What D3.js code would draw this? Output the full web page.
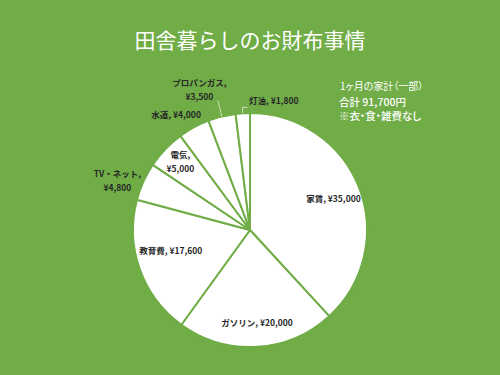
<!DOCTYPE html>
<html>
<head>
<meta charset="utf-8">
<script src="https://cdn.jsdelivr.net/npm/d3@7"></script>
<style>
  body { margin: 0; background: #70ad47; }
  svg { display: block; }
  .note text { font-feature-settings: "palt"; }
</style>
</head>
<body>
<div id="chart"></div>
<script>
var fullwidth = 500, fullheight = 375;

// data
var categories = ["家賃", "ガソリン", "教育費", "TV・ネット", "電気", "水道", "プロパンガス", "灯油"];
var values = [35000, 20000, 17600, 4800, 5000, 4000, 3500, 1800];
var titleText = "田舎暮らしのお財布事情";
var noteLines = ["1ヶ月の家計（一部）", "合計 91,700円", "※衣・食・雑費なし"];

// label placement: radius factor, angle shift (deg), wrap into two lines
var labelPlace = {
  "家賃":       {f: 0.76, da: 1,   wrap: false},
  "ガソリン":   {f: 0.80, da: -1,  wrap: false},
  "教育費":     {f: 0.70, da: 5,   wrap: false},
  "TV・ネット": {f: 1.21, da: -4,  wrap: true},
  "電気":       {f: 0.83, da: 0.5, wrap: true},
  "水道":       {f: 1.17, da: -4,  wrap: false},
  "プロパンガス": {f: 1.27, da: -6, wrap: true},
  "灯油":       {f: 1.12, da: 14,  wrap: false}
};
var leaders = {"プロパンガス": 1.14, "灯油": 1.05};

var cx = 250, cy = 230, radius = 117;
var fmt = d3.format(",");

var svg = d3.select("#chart").append("svg")
    .attr("width", fullwidth)
    .attr("height", fullheight);

svg.append("rect")
    .attr("width", fullwidth)
    .attr("height", fullheight)
    .attr("fill", "#70ad47");

svg.append("text")
    .attr("x", 250)
    .attr("y", 39)
    .attr("text-anchor", "middle")
    .attr("dominant-baseline", "central")
    .attr("fill", "#fff")
    .style("font-family", "'Noto Sans CJK JP', sans-serif")
    .style("font-size", "21px")
    .text(titleText);

var note = svg.append("g")
    .attr("class", "note")
    .attr("fill", "#fff")
    .style("font-family", "'Noto Sans CJK JP', sans-serif");
note.append("text").attr("x", 340).attr("y", 85)
    .attr("dominant-baseline", "central")
    .style("font-size", "10px").text(noteLines[0]);
note.append("text").attr("x", 339).attr("y", 101.5)
    .attr("dominant-baseline", "central")
    .style("font-size", "10.5px").style("font-weight", "500").text(noteLines[1]);
note.append("text").attr("x", 339).attr("y", 115)
    .attr("dominant-baseline", "central")
    .style("font-size", "10.5px").style("font-weight", "500").text(noteLines[2]);

var data = categories.map(function(c, i) { return {name: c, value: values[i]}; });

var pie = d3.pie()
    .sort(null)
    .value(function(d) { return d.value; });

var arcs = pie(data);

var arc = d3.arc().innerRadius(0).outerRadius(radius);

var g = svg.append("g")
    .attr("transform", "translate(" + cx + "," + cy + ")");

g.selectAll("path.slice")
    .data(arcs)
    .enter()
    .append("path")
    .attr("class", "slice")
    .attr("d", arc)
    .attr("fill", "#fff")
    .attr("stroke", "#70ad47")
    .attr("stroke-width", 2)
    .attr("stroke-linejoin", "round");

function polar(r, a) {
  return [r * Math.sin(a), -r * Math.cos(a)];
}
function midAngle(d) { return (d.startAngle + d.endAngle) / 2; }

// leader lines
g.selectAll("polyline.leader")
    .data(arcs.filter(function(d) { return leaders[d.data.name]; }))
    .enter()
    .append("polyline")
    .attr("class", "leader")
    .attr("fill", "none")
    .attr("stroke", "#cfe0c2")
    .attr("stroke-width", 1)
    .attr("points", function(d) {
      var a = midAngle(d);
      var p0 = polar(radius, a);
      var p1 = polar(radius * leaders[d.data.name], a);
      var pts = [p0, p1];
      if (d.data.name === "灯油") pts.push([p1[0] + 5, p1[1]]);
      return pts.map(function(p) { return p.join(","); }).join(" ");
    });

var labels = g.selectAll("text.label")
    .data(arcs)
    .enter()
    .append("text")
    .attr("class", "label")
    .attr("text-anchor", "middle")
    .attr("fill", "#262626")
    .style("font-family", "'Noto Sans CJK JP', sans-serif")
    .style("font-size", "8.5px")
    .style("font-weight", "bold")
    .attr("transform", function(d) {
      var lp = labelPlace[d.data.name];
      var a = midAngle(d) + lp.da * Math.PI / 180;
      var p = polar(radius * lp.f, a);
      return "translate(" + p[0] + "," + p[1] + ")";
    });

labels.each(function(d) {
  var t = d3.select(this);
  var lp = labelPlace[d.data.name];
  var val = "¥" + fmt(d.data.value);
  if (lp.wrap) {
    t.append("tspan").attr("x", 0).attr("y", -7).attr("dy", "0.35em").text(d.data.name + ",");
    t.append("tspan").attr("x", 0).attr("y", 7).attr("dy", "0.35em").text(val);
  } else {
    t.append("tspan").attr("x", 0).attr("y", 0).attr("dy", "0.35em").text(d.data.name + ", " + val);
  }
});
</script>
</body>
</html>
